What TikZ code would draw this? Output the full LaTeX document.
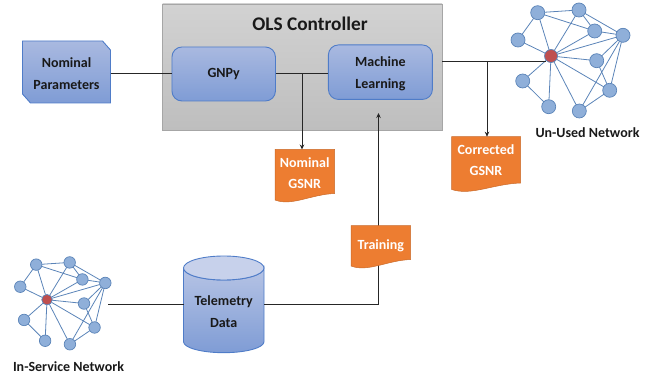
\documentclass[tikz,border=0pt]{standalone}
\usepackage{fontspec}
\setmainfont{Carlito}
\usetikzlibrary{arrows.meta,calc}
\definecolor{bluetop}{HTML}{A9B9E0}
\definecolor{bluebot}{HTML}{7F9CD5}
\definecolor{blueline}{HTML}{4F7CC8}
\definecolor{netblue}{HTML}{8FAFD9}
\definecolor{netline}{HTML}{5B84B8}
\definecolor{netred}{HTML}{BF4F4F}
\definecolor{orangedoc}{HTML}{ED7D31}
\definecolor{greytop}{HTML}{D2D2D2}
\definecolor{greybot}{HTML}{BEBEBE}
\tikzset{
  every node/.style={font=\bfseries\fontsize{14}{21.5}\selectfont,align=center,text=black!90},
  bluefill/.style={top color=bluetop,bottom color=bluebot,draw=blueline,line width=0.9pt},
  wire/.style={draw=black!85,line width=1pt},
  arrowwire/.style={wire,-{Stealth[length=5pt,width=4.5pt]}},
  docfill/.style={fill=orangedoc,draw=orangedoc!85!black,line width=0.5pt},
  doctext/.style={text=white},
  netnode/.style={circle,draw=netline,fill=netblue,line width=0.7pt,inner sep=0pt,outer sep=0pt},
  rednode/.style={circle,draw=netline,fill=netred,line width=0.7pt,inner sep=0pt,outer sep=0pt},
  netedge/.style={draw=netline,line width=0.8pt},
  netlabel/.style={font=\bfseries\fontsize{14}{15}\selectfont}
}
% #1 prefix, #2 x of hub, #3 y of hub, #4 scale, #5 node diameter, #6 hub diameter
\newcommand{\netdraw}[6]{%
  \node[rednode,minimum size=#6pt] (#1h) at (#2,#3) {};
  \foreach \nm/\dx/\dy in {1/-13.3/-43.3,2/28/-46,3/43.7/-25,4/72/-20.7,5/45.7/4.7,6/58.7/34.3,7/28.3/55,8/-2.3/50.7,9/-28.3/25,10/-33/-16}{
    \node[netnode,minimum size=#5pt] (#1\nm) at ($(#2,#3)+(#4*\dx,#4*\dy)$) {};
  }
  \foreach \a/\b in {1/2,1/3,2/3,2/4,3/4,4/5,4/6,4/7,5/6,6/7,8/9,1/10}{
    \draw[netedge] (#1\a) -- (#1\b);
  }
  \foreach \a in {1,2,3,4,5,6,7,8,9,10}{
    \draw[netedge] (#1\a) -- (#1h);
  }
}
% #1 x0, #2 y0, #3 x1, #4 y1
\newcommand{\docpath}[4]{%
  \fill[docfill] (#1,#2) -- (#3,#2) -- (#3,#4-9)
    .. controls ($(#3,#4-8)!0.4!(#1,#4-8)$) and ($(#3,#4+4)!0.72!(#1,#4+4)$) .. (#1,#4-2.5) -- cycle;
}
\begin{document}
\begin{tikzpicture}[x=1pt,y=-1pt]
\useasboundingbox (0,0) rectangle (660,379);
% controller
\draw[top color=greytop,bottom color=greybot,draw=black!35,line width=0.8pt] (162.5,4) rectangle (442,130);
\node[font=\bfseries\fontsize{19.3}{22}\selectfont] (ols) at (310,24) {OLS Controller};
% nominal parameters
\draw[bluefill] (22.5,41) -- (102.5,41) -- (110.5,50) -- (110.5,103) -- (30.5,103) -- (22.5,94) -- cycle;
\node (nom) [minimum width=88pt,minimum height=62pt,inner sep=0pt] at (66.5,73.5) {Nominal\\Parameters};
\coordinate (nomR) at (110.5,74);
% inner boxes
\node[bluefill,rounded corners=10pt,minimum width=103.5pt,minimum height=54pt,inner sep=0pt] (gnpy) at (223.7,74) {GNPy};
\node[bluefill,rounded corners=10pt,minimum width=104pt,minimum height=54.5pt,inner sep=0pt] (ml) at (380.4,72.2) {};
\node (mltext) at (380.4,74) {Machine\\Learning};
% telemetry cylinder
\path[top color=bluetop!85!white,bottom color=bluebot,draw=blueline,line width=0.9pt]
  (183.5,268) -- (183.5,341.7) arc[start angle=180,end angle=360,x radius=40.25,y radius=-11] -- (264,268)
  arc[start angle=0,end angle=180,x radius=40.25,y radius=12];
\draw[fill=bluetop!65!white,draw=blueline,line width=0.9pt] (223.75,268) ellipse[x radius=40.25,y radius=12];
\node[minimum width=80.5pt,minimum height=72pt,inner sep=0pt] (tele) at (223.75,311.5) {Telemetry\\Data};
\coordinate (teleL) at (183.5,304);
\coordinate (teleR) at (264,304);
% networks
\netdraw{u}{551}{56}{1}{14}{13}
\netdraw{s}{47}{299.7}{0.81}{11.5}{10.5}
\node[netlabel] (ulabel) at (587.5,133) {Un-Used Network};
\node[netlabel] (slabel) at (68.5,367) {In-Service Network};
% documents
\docpath{275}{149.5}{334.5}{202.5}
\node[doctext,minimum width=59.5pt,inner sep=0pt] (ngsnr) at (304.7,173) {Nominal\\GSNR};
\coordinate (ngsnrT) at (302,149.5);
\docpath{451.7}{136.7}{520.5}{192}
\node[doctext,minimum width=68.8pt,inner sep=0pt] (cgsnr) at (486,160) {Corrected\\GSNR};
\coordinate (cgsnrT) at (487,136.7);
% connectors
\coordinate (ctlR) at (442,61.5);
\coordinate (j1) at (302,74);
\coordinate (j2) at (487,61.5);
\coordinate (trainTip) at (378.5,113);
\coordinate (trainT) at (378.5,225.7);
\coordinate (netR) at (108,304);
\coordinate (turn) at (378.5,304);
\draw[wire] (nomR) -- (gnpy.west);
\draw[wire] (gnpy.east) -- (gnpy.east -| ml.west);
\draw[arrowwire] (j1) -- (ngsnrT);
\draw[wire] (ctlR) -- (ctlR -| uh.south west);
\draw[arrowwire] (j2) -- (cgsnrT);
\draw[wire] (netR) -- (teleL);
\draw[wire] (teleR) -- (turn) -- (trainT);
\draw[arrowwire] (trainT) -- (trainTip);
% training doc on top of connector
\docpath{351}{225.7}{410.7}{268.5}
\node[doctext,minimum width=59.7pt,inner sep=0pt] (train) at (380.8,245.5) {Training};
\end{tikzpicture}
\end{document}
